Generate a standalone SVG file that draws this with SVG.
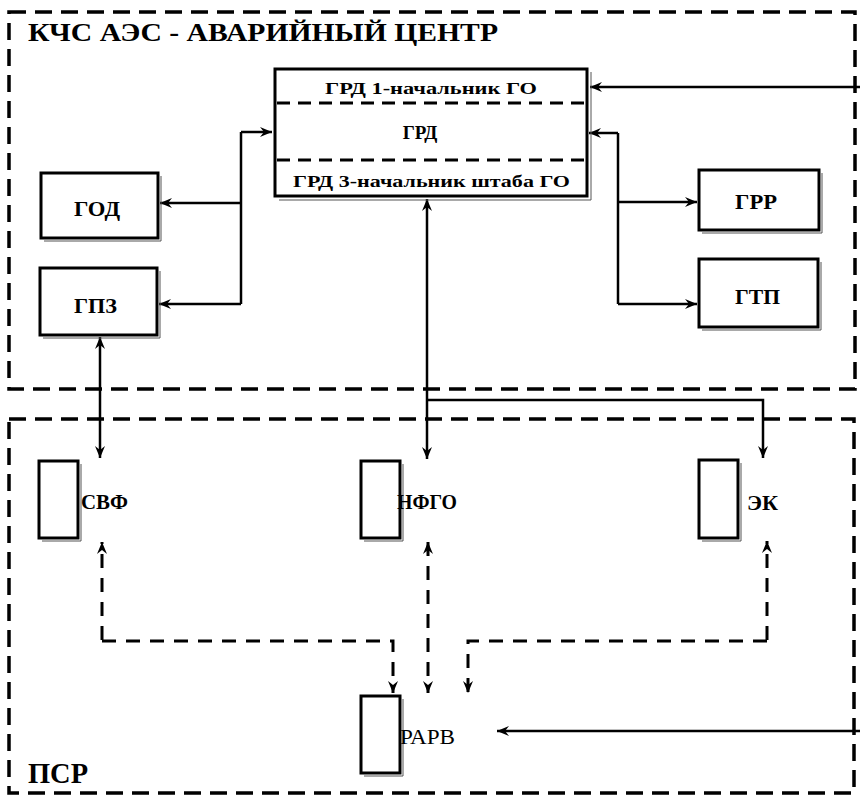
<svg xmlns="http://www.w3.org/2000/svg" width="860" height="799" viewBox="0 0 860 799">
<style>
.bg{fill:#fff}
.region{fill:none;stroke:#000;stroke-width:3.5;stroke-dasharray:17 9}
.box{fill:#fff;stroke:#000;stroke-width:3}
.shadow{fill:none;stroke:#555;stroke-width:1}
.sep{stroke:#000;stroke-width:3;stroke-dasharray:13 8;fill:none}
.line{fill:none;stroke:#000;stroke-width:2.5}
.dline{fill:none;stroke:#000;stroke-width:3;stroke-dasharray:14 10}
.t{font-family:"Liberation Serif","Times New Roman",serif;font-weight:bold;fill:#000}
.r{font-family:"Liberation Serif","Times New Roman",serif;font-weight:normal;fill:#000}
</style>
<defs>
<marker id="arr" markerUnits="userSpaceOnUse" markerWidth="13" markerHeight="11" refX="12" refY="5" orient="auto-start-reverse" viewBox="0 0 13 10">
<path d="M0,0 L12,5 L0,10 L4,5 Z" fill="#000"/>
</marker>
</defs>
<rect class="bg" x="0" y="0" width="860" height="799"/>
<g id="regions">
<rect class="region" x="9" y="12" width="846" height="377"/>
<rect class="region" x="9" y="419" width="845" height="374"/>
<text class="t" x="28" y="41" font-size="25" textLength="470" lengthAdjust="spacingAndGlyphs">КЧС  АЭС - АВАРИЙНЫЙ ЦЕНТР</text>
<text class="t" x="28" y="783" font-size="29" textLength="60" lengthAdjust="spacingAndGlyphs">ПСР</text>
</g>
<g id="connectors">
<path class="line" d="M241,132 H272" marker-end="url(#arr)"/>
<path class="line" d="M241,132 V304"/>
<path class="line" d="M241,203 H160" marker-end="url(#arr)"/>
<path class="line" d="M241,304 H159" marker-end="url(#arr)"/>
<path class="line" d="M618,133 H589" marker-end="url(#arr)"/>
<path class="line" d="M618,133 V304"/>
<path class="line" d="M618,202 H697" marker-end="url(#arr)"/>
<path class="line" d="M618,304 H697" marker-end="url(#arr)"/>
<path class="line" d="M860,87 H590" marker-end="url(#arr)"/>
<path class="line" d="M100,337 V458" marker-start="url(#arr)" marker-end="url(#arr)"/>
<path class="line" d="M427,199 V459" marker-start="url(#arr)" marker-end="url(#arr)"/>
<path class="line" d="M427,400 H763 V458" marker-end="url(#arr)"/>
<path class="line" d="M860,731 H497" marker-end="url(#arr)"/>
<path class="dline" d="M102,640 V542" marker-end="url(#arr)"/>
<path class="dline" d="M102,641 H393 V693" marker-end="url(#arr)"/>
<path class="dline" d="M428,542 V693" marker-start="url(#arr)" marker-end="url(#arr)"/>
<path class="dline" d="M767,640 V541" marker-end="url(#arr)"/>
<path class="dline" d="M767,641 H468 V693" marker-end="url(#arr)"/>
</g>
<g id="grd">
<path class="shadow" d="M591,72 V200 H279"/>
<rect class="box" x="275" y="69" width="312" height="127"/>
<line class="sep" x1="277" y1="103" x2="585" y2="103"/>
<line class="sep" x1="277" y1="160" x2="585" y2="160"/>
<text class="t" x="325" y="94" font-size="17" textLength="212" lengthAdjust="spacingAndGlyphs">ГРД 1-начальник ГО</text>
<text class="t" x="420" y="139" font-size="19" text-anchor="middle">ГРД</text>
<text class="t" x="293" y="187" font-size="17" textLength="277" lengthAdjust="spacingAndGlyphs">ГРД 3-начальник штаба ГО</text>
</g>
<g id="god">
<path class="shadow" d="M161,176 V241 H44"/>
<rect class="box" x="41" y="173" width="117" height="65"/>
<text class="t" x="74" y="216" font-size="21" textLength="46" lengthAdjust="spacingAndGlyphs">ГОД</text>
</g>
<g id="gpz">
<path class="shadow" d="M160,271 V338 H43"/>
<rect class="box" x="40" y="268" width="117" height="67"/>
<text class="t" x="74" y="313" font-size="21" textLength="43" lengthAdjust="spacingAndGlyphs">ГПЗ</text>
</g>
<g id="grr">
<path class="shadow" d="M822,173 V233 H702"/>
<rect class="box" x="699" y="170" width="120" height="60"/>
<text class="t" x="735" y="209" font-size="21" textLength="42" lengthAdjust="spacingAndGlyphs">ГРР</text>
</g>
<g id="gtp">
<path class="shadow" d="M821,262 V330 H702"/>
<rect class="box" x="699" y="259" width="119" height="68"/>
<text class="t" x="735" y="304" font-size="21" textLength="45" lengthAdjust="spacingAndGlyphs">ГТП</text>
</g>
<g id="svf">
<path class="shadow" d="M81,464 V541 H42"/>
<rect class="box" x="39" y="461" width="39" height="77"/>
<text class="t" x="81" y="509" font-size="20" textLength="47" lengthAdjust="spacingAndGlyphs">СВФ</text>
</g>
<g id="nfgo">
<path class="shadow" d="M403,464 V541 H364"/>
<rect class="box" x="361" y="461" width="39" height="77"/>
<text class="t" x="397" y="509" font-size="20" textLength="60" lengthAdjust="spacingAndGlyphs">НФГО</text>
</g>
<g id="ek">
<path class="shadow" d="M741,463 V541 H702"/>
<rect class="box" x="699" y="460" width="39" height="78"/>
<text class="t" x="747" y="510" font-size="20" textLength="31" lengthAdjust="spacingAndGlyphs">ЭК</text>
</g>
<g id="rarv">
<path class="shadow" d="M403,699 V776 H364"/>
<rect class="box" x="361" y="696" width="39" height="77"/>
<text class="r" x="400" y="744" font-size="20" textLength="55" lengthAdjust="spacingAndGlyphs">РАРВ</text>
</g>
</svg>
